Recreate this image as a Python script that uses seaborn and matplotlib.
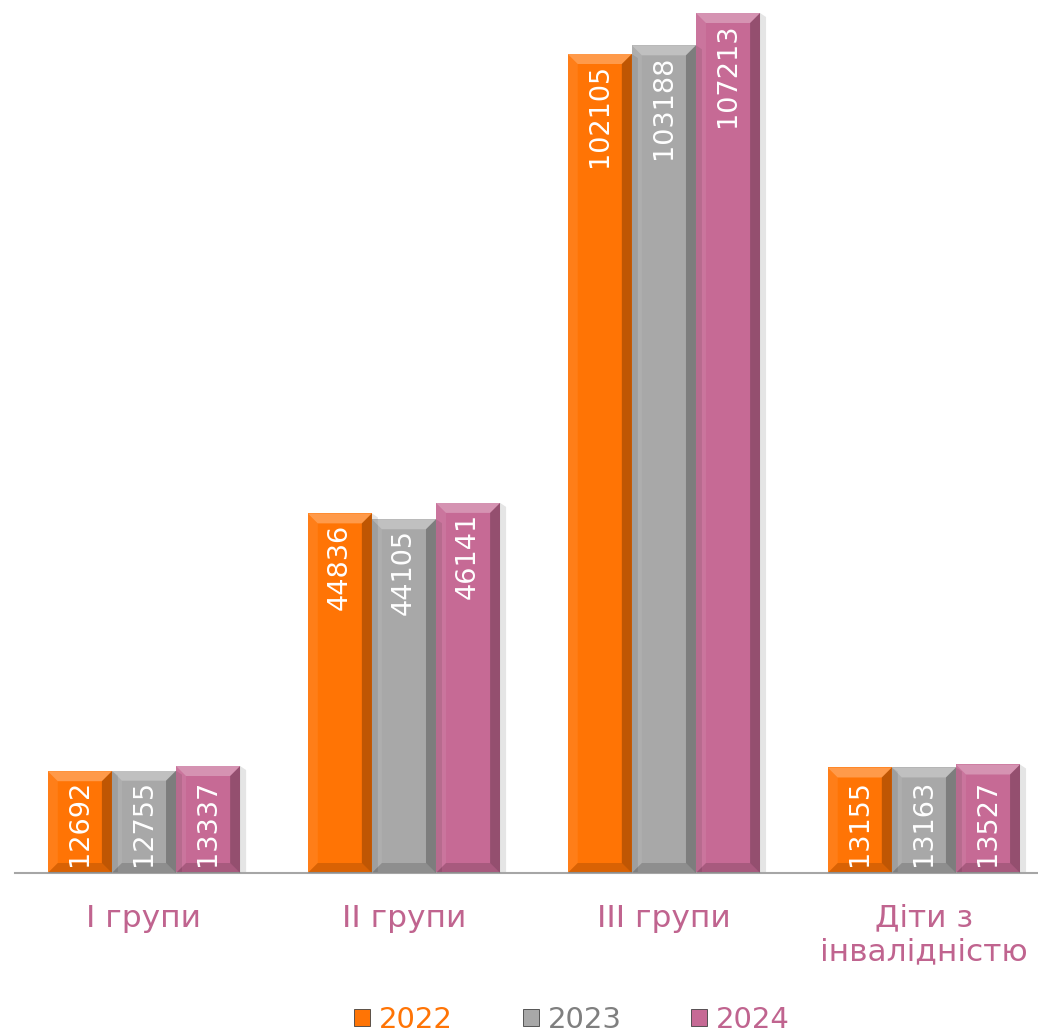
import pandas as pd
import matplotlib
matplotlib.use("Agg")
import matplotlib.pyplot as plt
from matplotlib.patches import Polygon, Patch
import seaborn as sns

categories = ["I групи", "II групи", "III групи", "Діти з\nінвалідністю"]
years = ["2022", "2023", "2024"]
values_2022 = [12692, 44836, 102105, 13155]
values_2023 = [12755, 44105, 103188, 13163]
values_2024 = [13337, 46141, 107213, 13527]

bar_colors = ["#FF7405", "#A8A8A8", "#C66A95"]
text_colors = ["#FF7405", "#7F7F7F", "#C0648F"]
cat_color = "#C0648F"

df = pd.DataFrame({
    "category": categories * 3,
    "year": [y for y in years for _ in categories],
    "value": values_2022 + values_2023 + values_2024,
})

sns.set_theme(style="white")
plt.rcParams["font.family"] = ["DejaVu Sans"]

fig = plt.figure(figsize=(10.38, 10.35), dpi=100)
ax = fig.add_axes([15 / 1038, 162 / 1035, 1 - 15 / 1038, 873 / 1035])

sns.barplot(data=df, x="category", y="value", hue="year", order=categories,
            hue_order=years, palette=bar_colors, width=0.74, gap=0,
            saturation=1, legend=False, ax=ax, linewidth=0)

ax.set_xlim(-0.496, 3.439)
ax.set_ylim(0, 108836)

# px -> data conversion
px_x = 1 / 260
px_y = 124.67
bx = 10 * px_x
by = 10 * px_y

for p in ax.patches:
    x0, w, h = p.get_x(), p.get_width(), p.get_height()
    x1 = x0 + w
    # soft shadow on the right
    ax.add_patch(Polygon([(x1, 0), (x1 + 6 * px_x, 0), (x1 + 6 * px_x, h - 4 * px_y), (x1, h)],
                         closed=True, color="black", alpha=0.1, lw=0, zorder=1))
    # bevels
    ax.add_patch(Polygon([(x0, h), (x1, h), (x1 - bx, h - by), (x0 + bx, h - by)],
                         closed=True, color="white", alpha=0.28, lw=0, zorder=3))
    ax.add_patch(Polygon([(x0, 0), (x0, h), (x0 + bx, h - by), (x0 + bx, by)],
                         closed=True, color="white", alpha=0.08, lw=0, zorder=3))
    ax.add_patch(Polygon([(x1, 0), (x1, h), (x1 - bx, h - by), (x1 - bx, by)],
                         closed=True, color="black", alpha=0.25, lw=0, zorder=3))
    ax.add_patch(Polygon([(x0, 0), (x1, 0), (x1 - bx, by), (x0 + bx, by)],
                         closed=True, color="black", alpha=0.15, lw=0, zorder=3))
    # short bars: label sits on the bottom, tall bars: label hangs from the top
    if h < 20000:
        ax.text(x0 + w / 2, 7 * px_y, f"{int(round(h))}", rotation=90,
                ha="center", va="bottom", color="white", fontsize=19.5, zorder=4)
    else:
        ax.text(x0 + w / 2, h - 10 * px_y, f"{int(round(h))}", rotation=90,
                ha="center", va="top", color="white", fontsize=19.5, zorder=4)

sns.despine(ax=ax, left=True, top=True, right=True)
ax.spines["bottom"].set_color("#A6A6A6")
ax.spines["bottom"].set_linewidth(1.5)
ax.set_yticks([])
ax.set_xlabel("")
ax.set_ylabel("")
ax.tick_params(axis="x", length=0, pad=22, labelsize=22.5, labelcolor=cat_color)
ax.set_facecolor("none")

handles = [Patch(facecolor=c, edgecolor="#404040", linewidth=0.6) for c in bar_colors]
fig.legend(handles, years, loc="center", bbox_to_anchor=(572 / 1038, 1 - 1020 / 1035),
           ncol=3, frameon=False, fontsize=21, labelcolor=text_colors,
           handlelength=0.55, handleheight=0.55, handletextpad=0.3, columnspacing=2.4)

fig.savefig("out.png", dpi=100)
